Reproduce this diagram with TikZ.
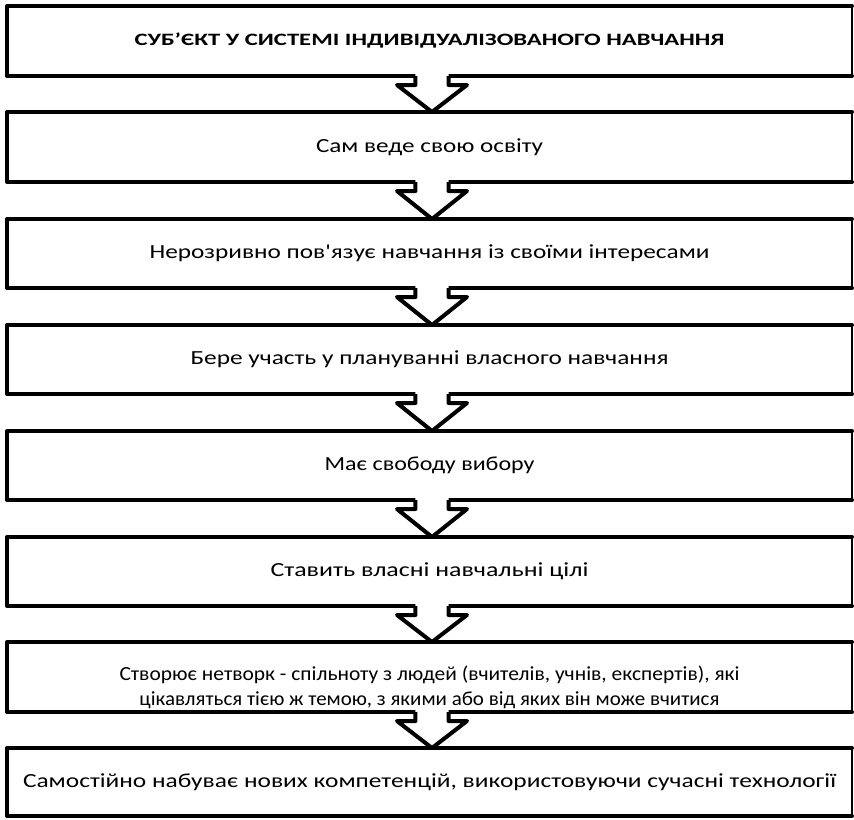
\documentclass[tikz,border=0pt]{standalone}
\usepackage{fontspec}
\setmainfont{Carlito}[Ligatures=TeXOff]
\usepackage{graphicx}
\usetikzlibrary{calc}
\newsavebox\fitbox
\newcommand\fitw[2]{\sbox\fitbox{#2}\pgfmathsetmacro\fitratio{(#1*0.75)/(\the\wd\fitbox)}\scalebox{\fitratio}[1]{\usebox\fitbox}}
\newcommand\flowarrow[2]{%
  \fill[white] let \p1=($(#1.south)+(2.5,0)$), \p2=(#2.north) in
    (\x1-12.4pt,\y1+2.6pt) -- (\x1-12.4pt,\y1-6.75pt) -- (\x1-26.25pt,\y1-6.75pt) -- (\x1,\y2)
    -- (\x1+26.25pt,\y1-6.75pt) -- (\x1+12.4pt,\y1-6.75pt) -- (\x1+12.4pt,\y1+2.6pt) -- cycle;
  \draw[arrowline] let \p1=($(#1.south)+(2.5,0)$), \p2=(#2.north) in
    (\x1-12.4pt,\y1) -- (\x1-12.4pt,\y1-6.75pt) -- (\x1-26.25pt,\y1-6.75pt) -- (\x1,\y2)
    -- (\x1+26.25pt,\y1-6.75pt) -- (\x1+12.4pt,\y1-6.75pt) -- (\x1+12.4pt,\y1);
}
\tikzset{
  boxn/.style={minimum width={845*0.75pt}, inner sep=0pt, outer sep=0pt,
    font=\fontsize{15}{18.75}\selectfont, align=center},
  textn/.style={inner sep=0pt, font=\fontsize{15}{18.75}\selectfont, align=center},
  titlefont/.style={font=\fontsize{13}{16}\selectfont\bfseries},
  thickedge/.style={line width=3pt, line join=round, line cap=round},
  thinedge/.style={line width=1.2pt},
  arrowline/.style={line width=3pt, line join=round},
}
\begin{document}
\begin{tikzpicture}[x=0.75pt,y=-0.75pt]
\useasboundingbox[fill=white] (0,0) rectangle (854,819);
\node[boxn, titlefont, minimum height={70*0.75pt}] (b1) at (429.5,41)
  {\fitw{590}{СУБ’ЄКТ У СИСТЕМІ ІНДИВІДУАЛІЗОВАНОГО НАВЧАННЯ}};
\node[boxn, minimum height={70*0.75pt}] (b2) at (429.5,147)
  {\fitw{227}{Сам веде свою освіту}};
\node[boxn, minimum height={69*0.75pt}] (b3) at (429.5,253.5)
  {\fitw{560}{Нерозривно пов'язує навчання із своїми інтересами}};
\node[boxn, minimum height={69*0.75pt}] (b4) at (429.5,359.5)
  {\fitw{478}{Бере участь у плануванні власного навчання}};
\node[boxn, minimum height={69*0.75pt}] (b5) at (429.5,465.5)
  {\fitw{210}{Має свободу вибору}};
\node[boxn, minimum height={69*0.75pt}] (b6) at (429.5,571.5)
  {\fitw{318}{Ставить власні навчальні цілі}};
\node[boxn, minimum height={70*0.75pt}] (b7) at (429.5,677) {};
\node[textn] (t7) at (429.5,687)
  {\fitw{620}{Створює нетворк - спільноту з людей (вчителів, учнів, експертів), які}\\
   \fitw{580}{цікавляться тією ж темою, з якими або від яких він може вчитися}};
\node[boxn, minimum height={68*0.75pt}] (b8) at (429.5,782)
  {\fitw{813}{Самостійно набуває нових компетенцій, використовуючи сучасні технології}};
\foreach \b in {b1,b2,b3,b4,b5,b6,b7,b8}{
  \draw[thickedge] (\b.north east) -- (\b.north west) -- (\b.south west) -- (\b.south east);
  \draw[thinedge] (\b.north east) -- (\b.south east);
}
\foreach \a/\c in {b1/b2,b2/b3,b3/b4,b4/b5,b5/b6,b6/b7,b7/b8}{
  \flowarrow{\a}{\c}
}
\end{tikzpicture}
\end{document}
